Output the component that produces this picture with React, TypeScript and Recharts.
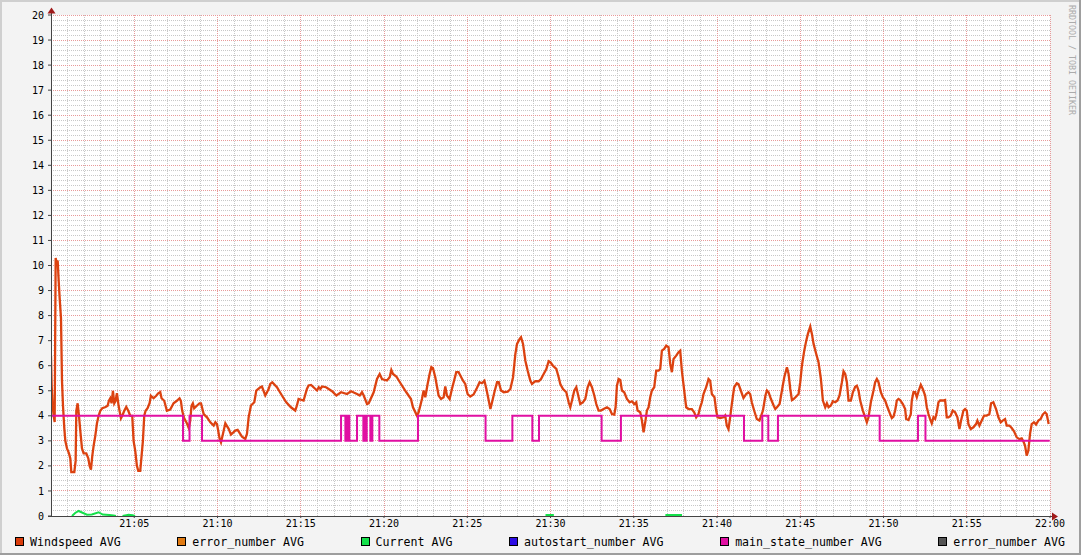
import React from 'react';
import { LineChart, Line, XAxis, YAxis, CartesianGrid, ReferenceLine } from 'recharts';

// minutes after 21:00
const WIND_T = [
  0, 0.04, 0.1, 0.16, 0.22, 0.28, 0.34, 0.4, 0.46, 0.52, 0.6, 0.66, 0.72, 0.8, 0.86, 0.96, 1.08, 1.16, 1.22, 1.4,
  1.48, 1.52, 1.6, 1.68, 1.76, 1.86, 1.96, 2.12, 2.24, 2.32, 2.4, 2.48, 2.56, 2.66, 2.76, 2.86, 2.96, 3.08, 3.28, 3.4,
  3.48, 3.56, 3.64, 3.72, 3.8, 3.88, 3.96, 4.06, 4.2, 4.28, 4.4, 4.52, 4.64, 4.76, 4.88, 4.96, 5.06, 5.16, 5.24, 5.36,
  5.44, 5.52, 5.6, 5.68, 5.8, 5.92, 6.0, 6.16, 6.32, 6.44, 6.56, 6.64, 6.8, 6.88, 6.96, 7.16, 7.36, 7.56, 7.72, 7.8,
  7.88, 8.0, 8.16, 8.28, 8.36, 8.44, 8.52, 8.6, 8.76, 8.92, 9.01, 9.17, 9.37, 9.57, 9.77, 9.87, 9.97, 10.13, 10.21, 10.33,
  10.47, 10.67, 10.81, 11.07, 11.21, 11.47, 11.67, 11.77, 11.87, 12.01, 12.21, 12.33, 12.57, 12.67, 12.87, 13.07, 13.17, 13.29, 13.57, 13.87,
  14.13, 14.41, 14.67, 14.77, 14.87, 15.17, 15.37, 15.47, 15.62, 15.88, 15.98, 16.08, 16.18, 16.28, 16.52, 16.88, 17.14, 17.42, 17.78, 18.02,
  18.38, 18.54, 18.68, 18.78, 18.98, 19.08, 19.38, 19.58, 19.74, 19.88, 20.18, 20.34, 20.44, 20.54, 20.74, 21.02, 21.34, 21.62, 21.74, 21.98,
  22.08, 22.28, 22.38, 22.48, 22.62, 22.74, 22.84, 22.94, 23.08, 23.28, 23.42, 23.58, 23.68, 23.78, 23.94, 24.08, 24.34, 24.48, 24.74, 24.88,
  25.02, 25.18, 25.38, 25.58, 25.74, 25.88, 26.03, 26.15, 26.29, 26.39, 26.49, 26.63, 26.79, 26.89, 27.03, 27.19, 27.43, 27.59, 27.75, 27.89,
  27.99, 28.15, 28.23, 28.35, 28.49, 28.63, 28.79, 28.89, 29.09, 29.29, 29.43, 29.59, 29.75, 29.89, 29.99, 30.15, 30.35, 30.49, 30.59, 30.75,
  30.95, 31.09, 31.19, 31.29, 31.43, 31.55, 31.69, 31.79, 31.95, 32.09, 32.23, 32.35, 32.49, 32.63, 32.75, 32.89, 33.03, 33.19, 33.39, 33.55,
  33.69, 33.83, 33.91, 33.99, 34.09, 34.19, 34.29, 34.43, 34.59, 34.75, 34.89, 35.03, 35.15, 35.23, 35.39, 35.49, 35.59, 35.69, 35.79, 35.89,
  35.99, 36.09, 36.23, 36.35, 36.49, 36.59, 36.69, 36.83, 36.95, 37.09, 37.19, 37.29, 37.39, 37.55, 37.69, 37.79, 37.89, 38.03, 38.15, 38.29,
  38.49, 38.63, 38.75, 38.89, 38.99, 39.09, 39.19, 39.35, 39.49, 39.59, 39.69, 39.85, 39.95, 40.03, 40.19, 40.39, 40.49, 40.59, 40.69, 40.79,
  40.89, 41.03, 41.19, 41.29, 41.43, 41.59, 41.75, 41.89, 41.99, 42.09, 42.23, 42.39, 42.55, 42.76, 42.91, 43.0, 43.1, 43.24, 43.4, 43.5,
  43.6, 43.76, 43.9, 44.04, 44.2, 44.3, 44.4, 44.5, 44.6, 44.76, 44.9, 45.0, 45.1, 45.24, 45.36, 45.46, 45.6, 45.7, 45.8, 45.96,
  46.1, 46.24, 46.36, 46.5, 46.6, 46.7, 46.84, 46.96, 47.1, 47.24, 47.36, 47.5, 47.6, 47.7, 47.8, 47.9, 48.04, 48.16, 48.3, 48.4,
  48.5, 48.6, 48.76, 48.9, 49.0, 49.1, 49.24, 49.4, 49.5, 49.6, 49.7, 49.84, 49.96, 50.1, 50.24, 50.4, 50.5, 50.6, 50.7, 50.8,
  50.9, 51.0, 51.16, 51.3, 51.36, 51.5, 51.64, 51.7, 51.8, 51.9, 52.0, 52.12, 52.24, 52.36, 52.5, 52.6, 52.7, 52.8, 52.9, 53.0,
  53.1, 53.2, 53.3, 53.4, 53.56, 53.7, 53.8, 53.9, 54.04, 54.16, 54.3, 54.44, 54.56, 54.66, 54.8, 54.9, 55.0, 55.1, 55.24, 55.4,
  55.56, 55.64, 55.76, 55.9, 56.04, 56.2, 56.36, 56.46, 56.6, 56.76, 56.9, 57.04, 57.16, 57.3, 57.4, 57.56, 57.7, 57.84, 58.0, 58.16,
  58.3, 58.4, 58.5, 58.6, 58.7, 58.8, 58.9, 59.04, 59.16, 59.3, 59.44, 59.56, 59.7, 59.8, 59.92,
];
const WIND_V = [
  6.4, 5.2, 4.4, 4.0, 3.75, 10.3, 10.1, 10.2, 9.4, 8.7, 7.9, 5.4, 4.4, 3.5, 3.0, 2.7, 2.5, 2.3, 1.75, 1.75,
  2.2, 4.2, 4.5, 4.0, 3.4, 2.7, 2.5, 2.5, 2.3, 2.0, 1.85, 2.4, 2.8, 3.2, 3.7, 4.0, 4.2, 4.3, 4.35, 4.4,
  4.6, 4.7, 4.5, 5.0, 4.5, 4.6, 4.9, 4.4, 3.9, 4.0, 4.2, 4.35, 4.2, 4.0, 4.0, 3.0, 2.6, 2.0, 1.8, 1.8,
  2.4, 3.0, 4.0, 4.2, 4.3, 4.5, 4.8, 4.7, 4.8, 4.9, 4.95, 4.7, 4.6, 4.4, 4.2, 4.25, 4.5, 4.6, 4.7, 4.6,
  4.2, 3.9, 3.7, 3.5, 3.8, 4.4, 4.5, 4.3, 4.4, 4.5, 4.5, 4.07, 3.94, 3.74, 3.61, 3.74, 3.67, 3.08, 2.94, 3.28,
  3.7, 3.48, 3.25, 3.41, 3.44, 3.17, 3.08, 3.28, 3.94, 4.41, 4.54, 5.01, 5.14, 5.17, 4.81, 5.07, 5.27, 5.34, 5.14, 4.81,
  4.54, 4.34, 4.21, 4.41, 4.67, 4.61, 5.07, 5.21, 5.23, 5.07, 5.01, 5.14, 5.07, 5.17, 5.14, 4.98, 4.81, 4.94, 4.87, 4.98,
  4.87, 4.81, 4.94, 4.81, 4.47, 4.5, 4.94, 5.47, 5.67, 5.47, 5.41, 5.54, 5.83, 5.67, 5.57, 5.27, 4.94, 4.67, 4.34, 4.01,
  4.14, 4.67, 5.01, 4.74, 5.27, 5.67, 5.94, 5.91, 5.54, 4.81, 4.67, 4.74, 5.17, 4.81, 4.67, 5.07, 5.74, 5.74, 5.41, 5.27,
  4.87, 4.77, 4.85, 5.11, 5.34, 5.3, 5.4, 5.07, 4.61, 4.27, 4.54, 4.94, 5.34, 5.34, 5.01, 4.94, 4.96, 5.07, 5.54, 6.47,
  6.87, 7.07, 7.14, 6.87, 6.2, 5.8, 5.4, 5.27, 5.38, 5.38, 5.47, 5.67, 5.87, 6.18, 6.14, 6.0, 5.87, 5.54, 5.27, 5.07,
  4.94, 4.54, 4.34, 4.61, 5.01, 5.14, 4.74, 4.47, 4.54, 4.67, 5.14, 5.34, 5.14, 4.81, 4.47, 4.21, 4.21, 4.27, 4.34, 4.27,
  4.07, 4.05, 4.34, 5.2, 5.47, 5.43, 5.01, 4.94, 4.67, 4.54, 4.58, 4.47, 4.54, 4.21, 4.14, 3.81, 3.34, 3.74, 4.21, 4.34,
  4.74, 5.01, 5.14, 5.8, 5.8, 5.87, 6.6, 6.67, 6.8, 6.74, 6.07, 5.74, 6.27, 6.4, 6.54, 6.6, 5.8, 5.01, 4.34, 4.27,
  4.27, 4.14, 3.94, 4.07, 4.34, 4.54, 4.87, 5.14, 5.47, 5.4, 4.87, 4.74, 4.21, 3.94, 3.91, 3.94, 4.01, 3.61, 3.47, 3.94,
  4.47, 5.14, 5.3, 5.27, 5.01, 4.71, 4.87, 4.94, 4.87, 4.54, 4.21, 3.87, 3.81, 4.21, 4.81, 5.01, 4.94, 4.67, 4.41, 4.27,
  4.34, 4.47, 5.01, 5.54, 5.94, 5.67, 5.07, 4.63, 4.67, 4.77, 4.87, 5.34, 6.0, 6.6, 7.0, 7.27, 7.56, 7.27, 6.87, 6.47,
  6.13, 5.47, 4.61, 4.34, 4.5, 4.34, 4.41, 4.58, 4.54, 4.61, 4.81, 5.34, 5.78, 5.67, 5.34, 4.61, 4.61, 4.94, 5.16, 5.2,
  5.01, 4.61, 4.21, 3.94, 3.74, 3.94, 4.54, 5.01, 5.34, 5.47, 5.34, 4.94, 4.74, 4.61, 4.34, 4.07, 3.91, 3.97, 4.21, 4.61,
  4.67, 4.63, 4.47, 4.27, 3.87, 3.83, 4.07, 4.61, 4.94, 4.94, 4.74, 5.01, 5.24, 5.07, 4.81, 4.34, 4.07, 3.87, 3.7, 3.94,
  3.87, 4.14, 4.54, 4.61, 4.61, 4.63, 3.94, 3.94, 4.01, 4.21, 4.14, 3.94, 3.47, 3.81, 4.21, 4.27, 4.21, 3.67, 3.47, 3.54,
  3.67, 3.81, 3.61, 3.81, 4.01, 4.01, 4.07, 4.5, 4.54, 4.27, 3.94, 3.74, 3.81, 3.87, 3.61, 3.61, 3.51, 3.38, 3.14, 3.07,
  3.1, 2.98, 2.81, 2.41, 2.61, 3.28, 3.67, 3.74, 3.65, 3.81, 3.87, 4.05, 4.14, 4.07, 3.67,
];

const MAIN_T = [
  0, 7.93, 8.32, 9.07, 17.42, 17.68, 17.74, 17.8, 17.86, 17.92, 18.38, 18.76, 18.82, 18.88, 18.96, 19.18, 19.22, 19.26,
  19.3, 19.72, 22.04, 26.1, 27.71, 28.91, 29.31, 33.07, 34.23, 41.62, 42.72, 43.08, 43.66, 49.77, 52.07, 52.52, 59.98,
];
const MAIN_V = [4, 3, 4, 3, 4, 3, 4, 3, 4, 3, 4, 3, 4, 3, 4, 3, 4, 3, 4, 3, 4, 3, 4, 3, 4, 3, 4, 3, 4, 3, 4, 3, 4, 3, 3];

const CURRENT_T = [1.26, 1.45, 1.66, 1.86, 2.16, 2.45, 2.86, 3.1, 3.5, 3.76, 3.9, 4.1, 4.3, 4.66, 4.9, 5.05, 10, 29.7, 30.2, 33, 36.9, 37.9];
const CURRENT_V = [0, 0.12, 0.2, 0.14, 0.05, 0.06, 0.15, 0.06, 0.04, 0.02, 0, null, 0, 0.05, 0.03, 0, null, 0.04, 0.04, null, 0.04, 0.04];

const X_TICKS = [5, 10, 15, 20, 25, 30, 35, 40, 45, 50, 55, 60];
const Y_TICKS = Array.from({ length: 21 }, (_, i) => i);
const X_MAJOR = [0, ...X_TICKS];
const X_MINOR = Array.from({ length: 61 }, (_, i) => i).filter(m => m % 5 !== 0);
const Y_MINOR = Array.from({ length: 101 }, (_, i) => +(i * 0.2).toFixed(1)).filter(v => !Number.isInteger(v));

const LEGEND = [
  { label: 'Windspeed AVG', color: '#DA3D0C' },
  { label: 'error_number AVG', color: '#E07A12' },
  { label: 'Current AVG', color: '#14E04A' },
  { label: 'autostart_number AVG', color: '#2C0CE4' },
  { label: 'main_state_number AVG', color: '#E00FA2' },
  { label: 'error_number AVG', color: '#555555' },
];

const windData = WIND_T.map((t, i) => ({ t, v: WIND_V[i] }));
const mainData = MAIN_T.map((t, i) => ({ t, v: MAIN_V[i] }));
const currentData = CURRENT_T.map((t, i) => ({ t, v: CURRENT_V[i] }));

const MONO = '"DejaVu Sans Mono", monospace';
const MINOR_GRID = { stroke: '#c8c8c8', strokeDasharray: '1 1', strokeWidth: 1, shapeRendering: 'crispEdges' };
const MAJOR_GRID = { stroke: '#e89a9a', strokeDasharray: '1 1', strokeWidth: 1, shapeRendering: 'crispEdges' };

const fmtTime = (m: number) => (m >= 60 ? '22:00' : `21:${String(m).padStart(2, '0')}`);

export default function App() {
  return (
    <div style={{ position: 'absolute', left: 0, top: 0, width: 1081, height: 555, background: '#F3F3F3', fontFamily: MONO }}>
      <LineChart width={1081} height={555} margin={{ top: 15, right: 31, bottom: 9, left: 0 }}>
        <CartesianGrid fill="#ffffff" horizontal={false} vertical={false} />
        {Y_MINOR.map(v => <ReferenceLine key={`ym${v}`} y={v} {...MINOR_GRID} />)}
        {X_MINOR.map(m => <ReferenceLine key={`xm${m}`} x={m} {...MINOR_GRID} />)}
        {Y_TICKS.map(v => <ReferenceLine key={`yM${v}`} y={v} {...MAJOR_GRID} />)}
        {X_MAJOR.map(m => <ReferenceLine key={`xM${m}`} x={m} {...MAJOR_GRID} />)}
        <XAxis
          dataKey="t"
          type="number"
          domain={[0, 60]}
          ticks={X_TICKS}
          tickFormatter={fmtTime}
          axisLine={false}
          tickSize={2}
          tickMargin={2}
          tickLine={{ stroke: '#444' }}
          tick={{ fill: '#000', fontSize: 10, fontFamily: MONO }}
          height={30}
          allowDataOverflow
        />
        <YAxis
          type="number"
          domain={[0, 20]}
          ticks={Y_TICKS}
          width={51}
          axisLine={false}
          tickSize={3}
          tickMargin={4}
          tickLine={{ stroke: '#444' }}
          tick={{ fill: '#000', fontSize: 10, fontFamily: MONO }}
          allowDataOverflow
        />
        <Line data={currentData} dataKey="v" type="linear" stroke="#14E04A" strokeWidth={2} dot={false} isAnimationActive={false} connectNulls={false} />
        <Line data={windData} dataKey="v" type="linear" stroke="#DC4210" strokeWidth={2.3} dot={false} isAnimationActive={false} />
        <Line data={mainData} dataKey="v" type="stepAfter" stroke="#E00FA2" strokeWidth={2} dot={false} isAnimationActive={false} />
      </LineChart>

      <svg width={1081} height={555} style={{ position: 'absolute', left: 0, top: 0, pointerEvents: 'none' }}>
        {/* frame */}
        <rect x={0} y={0} width={1081} height={2} fill="#CFCFCF" />
        <rect x={0} y={0} width={2} height={555} fill="#CFCFCF" />
        <rect x={0} y={553} width={1081} height={2} fill="#9E9E9E" />
        <rect x={1079} y={0} width={2} height={555} fill="#9E9E9E" />
        {/* axes */}
        <line x1={51.5} y1={12} x2={51.5} y2={517} stroke="#444" strokeWidth={1} />
        <line x1={48} y1={516.5} x2={1053} y2={516.5} stroke="#444" strokeWidth={1} />
        <polygon points="47.5,13.5 55.5,13.5 51.5,7.5" fill="#A01A1A" />
        <polygon points="1052,512.5 1052,520.5 1058,516.5" fill="#A01A1A" />
        <text transform="translate(1069,5) rotate(90)" fontFamily={MONO} fontSize={8.3} fill="#ababab">
          RRDTOOL / TOBI OETIKER
        </text>
      </svg>

      <div
        style={{
          position: 'absolute', left: 15, right: 16, top: 535.5, height: 12,
          display: 'flex', justifyContent: 'space-between', alignItems: 'center',
          fontFamily: MONO, fontSize: 11.6, lineHeight: '12px', color: '#000', whiteSpace: 'pre',
        }}
      >
        {LEGEND.map((item, i) => (
          <div key={i} style={{ display: 'flex', alignItems: 'center' }}>
            <span style={{ display: 'inline-block', width: 7, height: 7, border: '1px solid #000', background: item.color, marginRight: 6 }} />
            <span>{item.label}</span>
          </div>
        ))}
      </div>
    </div>
  );
}
